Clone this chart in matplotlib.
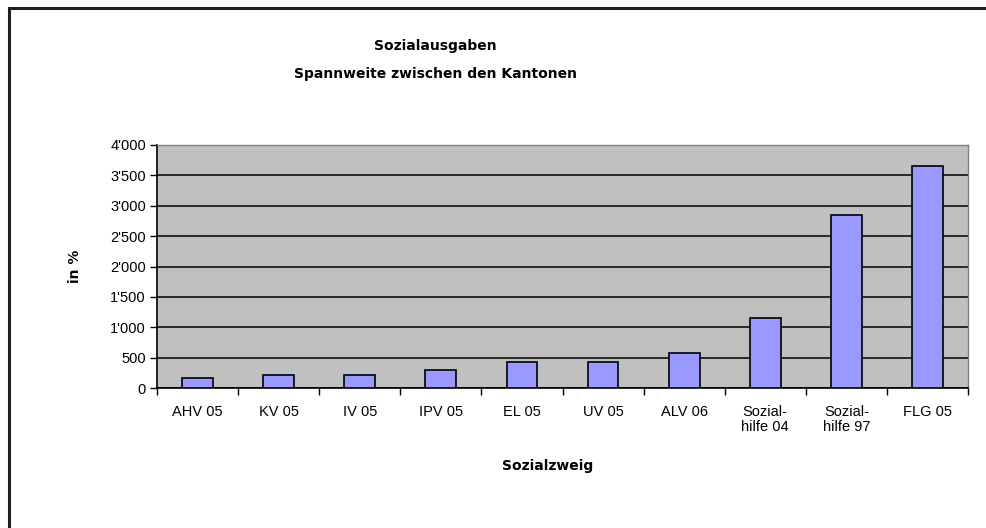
import matplotlib
matplotlib.use("Agg")
import matplotlib.pyplot as plt
import matplotlib.patches as mpatches
from matplotlib.ticker import FuncFormatter, MultipleLocator
import numpy as np

categories = ["AHV 05", "KV 05", "IV 05", "IPV 05", "EL 05", "UV 05",
              "ALV 06", "Sozial-\nhilfe 04", "Sozial-\nhilfe 97", "FLG 05"]
values = [160, 210, 210, 290, 420, 423, 580, 1156, 2840, 3662]

plt.rcParams['font.family'] = ['Liberation Sans', 'DejaVu Sans']
bold_font = ['DejaVu Sans']

fig = plt.figure(figsize=(9.86, 5.28), dpi=100)
ax = fig.add_axes([157 / 986, 1 - 388 / 528, (968 - 157) / 986, (388 - 145) / 528])

# outer chart frame (only top/left edges visible in the reference)
frame = mpatches.Rectangle((9 / 986, -0.2), 1.2, 1.2 - 8 / 528,
                           transform=fig.transFigure, fill=False,
                           edgecolor='#202020', linewidth=2.2, clip_on=False)
fig.patches.append(frame)

x = np.arange(len(categories))
ax.set_facecolor('#C0C0C0')
ax.bar(x, values, width=0.38, color='#9999FF', edgecolor='black',
       linewidth=1.2, zorder=3)

ax.set_xlim(-0.5, len(categories) - 0.5)
ax.set_ylim(0, 4000)
ax.yaxis.set_major_locator(MultipleLocator(500))
ax.yaxis.set_major_formatter(FuncFormatter(lambda v, p: f"{int(v):,}".replace(",", "'")))
ax.grid(axis='y', color='black', linewidth=1.1, zorder=1)
ax.set_axisbelow(True)

# category labels between boundary ticks
ax.set_xticks(x)
ax.set_xticklabels(categories, fontsize=10.5, linespacing=1.1, va='top')
ax.tick_params(axis='x', length=0, pad=12)
ax.set_xticks(np.arange(-0.5, len(categories)), minor=True)
ax.tick_params(axis='x', which='minor', length=5, width=1, direction='out')
ax.tick_params(axis='y', length=5, width=1, direction='out', labelsize=10.5, pad=3)

for side in ['top', 'right']:
    ax.spines[side].set_color('#808080')
    ax.spines[side].set_linewidth(1)
for side in ['left', 'bottom']:
    ax.spines[side].set_color('black')
    ax.spines[side].set_linewidth(1.2)

fig.text(548 / 986, 1 - 466 / 528, "Sozialzweig", ha='center', va='center',
         fontsize=10, fontweight='bold', family=bold_font)
fig.text(75 / 986, 1 - 266 / 528, "in %", ha='center', va='center', rotation=90,
         fontsize=10, fontweight='bold', family=bold_font)

fig.text(435 / 986, 1 - 46 / 528, "Sozialausgaben", ha='center', va='center',
         fontsize=10, fontweight='bold', family=bold_font)
fig.text(435 / 986, 1 - 74 / 528, "Spannweite zwischen den Kantonen", ha='center',
         va='center', fontsize=10, fontweight='bold', family=bold_font)

fig.savefig("out.png", dpi=100, facecolor='white')
